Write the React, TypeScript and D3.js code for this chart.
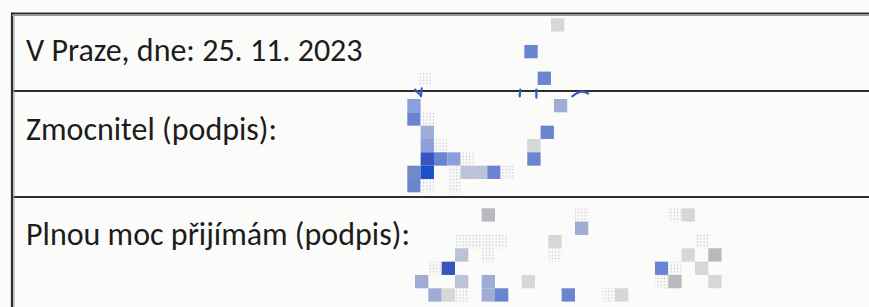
import React from 'react';
import * as d3 from 'd3';

const W = 869;
const H = 307;

// form rows (labels of the table)
const labels = ['V Praze, dne: 25. 11. 2023', 'Zmocnitel (podpis):', 'Plnou moc přijímám (podpis):'];

// pixelated signature cells: [col, row, tone]
const sigTop = [
  [0, 4, 'faint'],
  [8, 2, 'mid'],
  [9, 4, 'mid'],
  [10, 0, 'pale'],
];

const sigMiddle = [
  [0, 0, 'light'],
  [0, 1, 'mid'],
  [11, 0, 'slate'],
  [1, 1, 'faint'],
  [1, 2, 'slate'],
  [10, 2, 'mid'],
  [1, 3, 'light'],
  [2, 3, 'faint'],
  [9, 3, 'pale'],
  [1, 4, 'dark'],
  [2, 4, 'mid'],
  [3, 4, 'light'],
  [4, 4, 'faint'],
  [9, 4, 'mid'],
  [0, 5, 'steel'],
  [1, 5, 'blue'],
  [3, 5, 'faint'],
  [4, 5, 'bluegray'],
  [5, 5, 'bluegray'],
  [6, 5, 'mid'],
  [7, 5, 'faint'],
  [0, 6, 'mid'],
  [1, 6, 'faint'],
  [3, 6, 'faint'],
];

const sigBottom = [
  [5, 0, 'gray'],
  [12, 0, 'faint'],
  [12, 1, 'slate'],
  [19, 0, 'faint'],
  [20, 0, 'pale'],
  [3, 2, 'faint'],
  [4, 2, 'faint'],
  [5, 2, 'faint'],
  [6, 2, 'faint'],
  [10, 2, 'pale'],
  [21, 2, 'faint'],
  [10, 3, 'faint'],
  [3, 3, 'bluegray'],
  [5, 3, 'faint'],
  [20, 3, 'pale'],
  [22, 3, 'gray'],
  [1, 4, 'faint'],
  [2, 4, 'dark'],
  [18, 4, 'mid'],
  [19, 4, 'faint'],
  [21, 4, 'pale'],
  [0, 5, 'slate'],
  [3, 5, 'bluegray'],
  [5, 5, 'slate'],
  [8, 5, 'pale'],
  [18, 5, 'faint'],
  [19, 5, 'gray'],
  [22, 5, 'pale'],
  [1, 6, 'slate'],
  [2, 6, 'pale'],
  [3, 6, 'faint'],
  [5, 6, 'slate'],
  [6, 6, 'mid'],
  [11, 6, 'mid'],
  [14, 6, 'faint'],
  [15, 6, 'pale'],
];

// bits of ink that survive the pixelation, in the same grid units as sigTop
const inkStrokes = [
  [[-0.2, 5.35], [0.2, 5.75]],
  [[0.3, 5.25], [0.25, 5.85]],
  [[7.7, 5.35], [7.65, 5.85]],
  [[8.9, 5.35], [8.9, 5.95]],
  [[11.6, 5.85], [12.0, 5.55], [12.4, 5.45], [12.8, 5.65]],
];

const tones = ['faint', 'pale', 'gray', 'bluegray', 'slate', 'light', 'steel', 'mid', 'dark', 'blue'];
const toneColors = ['url(#dots)', '#d6d7d8', '#b7b9be', '#bcc3d6', '#9eacd6', '#8a9fdb', '#7189c4', '#6a84d0', '#3656bd', '#1d4ec9'];

const color = d3.scaleOrdinal<string, string>().domain(tones).range(toneColors);

const CELL = 13.33;

// each signature block has its own grid origin
const blocks = [
  { cells: sigTop, x0: 417.7, y0: 18.3 },
  { cells: sigMiddle, x0: 407.3, y0: 99 },
  { cells: sigBottom, x0: 415, y0: 208.3 },
];

const rowY = d3.scaleOrdinal<number, number>().domain([0, 1, 2]).range([61, 140, 245]);

const App = () => {
  const tx = d3.scaleLinear().domain([0, 1]).range([blocks[0].x0, blocks[0].x0 + CELL]);
  const ty = d3.scaleLinear().domain([0, 1]).range([blocks[0].y0, blocks[0].y0 + CELL]);
  const ink = d3
    .line<number[]>()
    .x(d => tx(d[0]))
    .y(d => ty(d[1]))
    .curve(d3.curveBasis);

  return (
    <svg width={W} height={H} style={{ position: 'absolute', left: 0, top: 0, background: '#fbfcfa' }}>
      <defs>
        <pattern id="dots" width={3.3} height={3.3} patternUnits="userSpaceOnUse">
          <rect width={3.3} height={3.3} fill="#fafafa" />
          <circle cx={1.2} cy={1.2} r={0.7} fill="#c4c4c4" />
        </pattern>
      </defs>
      <rect width={W} height={H} fill="#fbfcfa" />
      {blocks.map((b, bi) => {
        const x = d3.scaleLinear().domain([0, 1]).range([b.x0, b.x0 + CELL]);
        const y = d3.scaleLinear().domain([0, 1]).range([b.y0, b.y0 + CELL]);
        return (
          <g key={bi}>
            {b.cells.map(([c, r, t], i) => (
              <rect
                key={i}
                x={x(c as number)}
                y={y(r as number)}
                width={x(1) - x(0)}
                height={y(1) - y(0)}
                fill={color(t as string)}
              />
            ))}
          </g>
        );
      })}
      {/* table lines */}
      <g stroke="#2e2e2e" strokeWidth={2.2} fill="none">
        <line x1={12} x2={W} y1={13.5} y2={13.5} />
        <line x1={12} x2={W} y1={91} y2={91} />
        <line x1={12} x2={W} y1={197} y2={197} />
        <line x1={12} x2={12} y1={12.5} y2={H} />
      </g>
      <g stroke="#9a9a9a" strokeWidth={1} fill="none">
        <line x1={12} x2={W} y1={15.5} y2={15.5} />
        <line x1={14} x2={14} y1={15} y2={H} />
      </g>
      <g stroke="#2f5bc4" strokeWidth={2.2} fill="none" strokeLinecap="round">
        {inkStrokes.map((s, i) => (
          <path key={i} d={ink(s) ?? ''} />
        ))}
      </g>
      {labels.map((l, i) => (
        <text
          key={i}
          x={26}
          y={rowY(i)}
          fontFamily="Carlito, Lato, 'Open Sans', sans-serif"
          fontSize={32}
          fill="#1c1c1c"
        >
          {l}
        </text>
      ))}
    </svg>
  );
};

export default App;
